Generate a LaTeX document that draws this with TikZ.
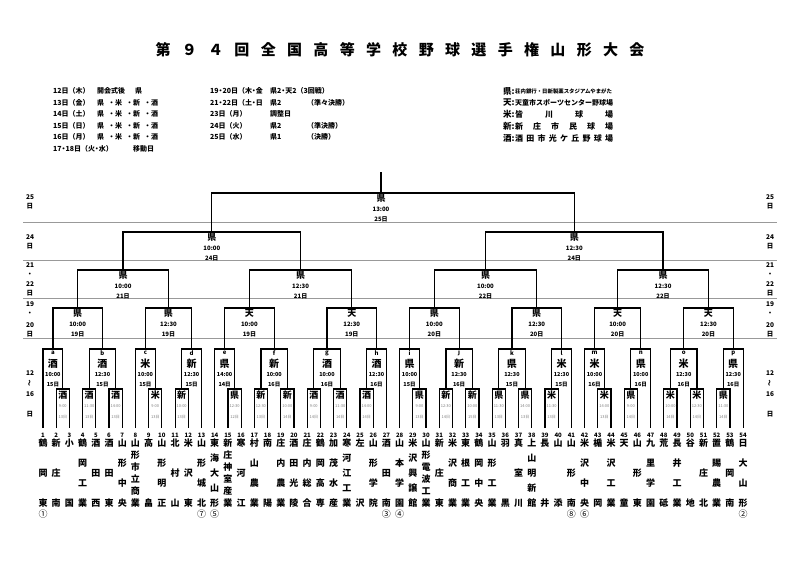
\documentclass[tikz,border=0pt]{standalone}
\usepackage{fontspec}
\setmainfont{Noto Sans CJK JP}
\usetikzlibrary{calc}
\newcommand\ndot{\kern-1.6pt・\kern-1.6pt}
\tikzset{
 br/.style={line width=1.2pt},
 sepl/.style={line width=0.8pt, draw=black!40},
 ttl/.style={font=\bfseries\fontsize{15}{15}\selectfont, inner sep=0},
 hd/.style={font=\bfseries\fontsize{7}{7}\selectfont, inner sep=0, anchor=west},
 lgk/.style={font=\bfseries\fontsize{8.5}{8.5}\selectfont, inner sep=0, anchor=west},
 lgt/.style={font=\bfseries\fontsize{7}{7}\selectfont, inner sep=0, anchor=west},
 dl/.style={font=\bfseries\fontsize{6.5}{6.5}\selectfont, inner sep=0},
 v1/.style={font=\bfseries\fontsize{9}{9}\selectfont, inner sep=0},
 t1/.style={font=\fontsize{4}{4}\selectfont, text=black!50, inner sep=0},
 lt/.style={font=\bfseries\fontsize{6}{6}\selectfont, inner sep=0},
 v2/.style={font=\bfseries\fontsize{10}{10}\selectfont, inner sep=0},
 t2/.style={font=\bfseries\fontsize{5.5}{5.5}\selectfont, inner sep=0},
 v3/.style={font=\bfseries\fontsize{9}{9}\selectfont, inner sep=0},
 t3/.style={font=\bfseries\fontsize{6}{6}\selectfont, inner sep=0},
 num/.style={font=\bfseries\fontsize{6}{6}\selectfont, inner sep=0},
 tn/.style={font=\bfseries\fontsize{9}{9}\selectfont, inner sep=0},
 circ/.style={font=\fontsize{9}{9}\selectfont, inner sep=0},
}
\newcommand\mkgame[4]{%
  \edef\mgname{#1}\edef\mgca{#2}\edef\mgcb{#3}%
  \path let \p1=(\mgca),\p2=(\mgcb) in ({\x1/2+\x2/2},{-#4pt}) coordinate (\mgname);
  \draw[br] (\mgca) |- (\mgname) -| (\mgcb);}
\newcommand\lone[4]{%
  \node[v1] (#1-v) at ([yshift=-6.5pt]#1) {#2};
  \node[t1] (#1-t) at ([yshift=-17.5pt]#1) {#3};
  \node[t1] (#1-d) at ([yshift=-28pt]#1) {#4};}
\newcommand\ltwo[5]{%
  \node[lt] (#1-l) at ([yshift=-4pt]#1) {#2};
  \node[v2] (#1-v) at ([yshift=-14.5pt]#1) {#3};
  \node[t2] (#1-t) at ([yshift=-25.5pt]#1) {#4};
  \node[t2] (#1-d) at ([yshift=-36pt]#1) {#5};}
\newcommand\lthree[4]{%
  \node[v3] (#1-v) at ([yshift=-5.5pt]#1) {#2};
  \node[t3] (#1-t) at ([yshift=-16pt]#1) {#3};
  \node[t3] (#1-d) at ([yshift=-26pt]#1) {#4};}
\newcommand\mkteam[3]{%
  \foreach \c [count=\k] in {#3} {
    \node[tn] (n#1-\k) at ({43+(#1-1)*13.21},{443+(\k-1)*60/(#2-1)}) {\c};
  }}
\begin{document}
\begin{tikzpicture}[x=1pt,y=-1pt]
\useasboundingbox (0,0) rectangle (800,565);
\fill[white] (0,0) rectangle (800,565);
% title
\foreach \c [count=\k] in {第,９,４,回,全,国,高,等,学,校,野,球,選,手,権,山,形,大,会}
  \node[ttl] (title\k) at ({163+(\k-1)*26.33},50) {\c};
% header left
\node[hd] (h1a) at (53,91) {12日（木）};
\node[hd] (h1b) at (97,91) {開会式後\hspace{10pt}県};
\foreach \yy/\dd [count=\k] in {102.5/13日（金）,114/14日（土）,125.5/15日（日）,137/16日（月）}{
  \node[hd] (h\k a) at (53,\yy) {\dd};
  \node[hd] (h\k b) at (97,\yy) {県\hspace{4pt}・米\hspace{4pt}・新\hspace{4pt}・酒};
}
\node[hd] (h6a) at (53,148.5) {17\ndot 18日（火\ndot 水）};
\node[hd] (h6b) at (133,148.5) {移動日};
% header right
\node[hd] (r1a) at (210,91) {19\ndot 20日（木\ndot 金};
\node[hd] (r1b) at (270,91) {県2\ndot 天2（3回戦）};
\node[hd] (r2a) at (210,102.5) {21\ndot 22日（土\ndot 日};
\node[hd] (r2b) at (270,102.5) {県2};
\node[hd] (r2c) at (307,102.5) {（準々決勝）};
\node[hd] (r3a) at (210,114) {23日（月）};
\node[hd] (r3b) at (270,114) {調整日};
\node[hd] (r4a) at (210,125.5) {24日（火）};
\node[hd] (r4b) at (270,125.5) {県2};
\node[hd] (r4c) at (307,125.5) {（準決勝）};
\node[hd] (r5a) at (210,137) {25日（水）};
\node[hd] (r5b) at (270,137) {県1};
\node[hd] (r5c) at (307,137) {（決勝）};
% legend
\node[lgk] (k1) at (503,91) {県:};
\node[lgt,font=\bfseries\fontsize{5.4}{5.4}\selectfont] (k1t) at (515,91) {荘内銀行・日新製薬スタジアムやまがた};
\node[lgk] (k2) at (503,103) {天:};
\node[lgt] (k2t) at (515,103) {天童市スポーツセンター野球場};
\node[lgk] (k3) at (503,114.5) {米:};
\node[lgt,font=\bfseries\fontsize{8}{8}\selectfont] (k3t) at (515,114.5) {\makebox[98pt][s]{皆\hfill 川\hfill 球\hfill 場}};
\node[lgk] (k4) at (503,126) {新:};
\node[lgt,font=\bfseries\fontsize{8}{8}\selectfont] (k4t) at (515,126) {\makebox[98pt][s]{新\hfill 庄\hfill 市\hfill 民\hfill 球\hfill 場}};
\node[lgk] (k5) at (503,138) {酒:};
\node[lgt,font=\bfseries\fontsize{8}{8}\selectfont] (k5t) at (515,138) {\makebox[98pt][s]{酒\hfill 田\hfill 市\hfill 光\hfill ケ\hfill 丘\hfill 野\hfill 球\hfill 場}};
% separators
\foreach \yy [count=\k] in {222,260,298,338}{
  \coordinate (sa\k) at (23,\yy); \coordinate (sb\k) at (777,\yy);
  \draw[sepl] (sa\k) -- (sb\k);
}
% day labels
\foreach \xx/\ss in {30/L,770/R}{
  \node[dl] (d25\ss) at (\xx,197) {25};
  \node[dl] (d25b\ss) at (\xx,206) {日};
  \node[dl] (d24\ss) at (\xx,237) {24};
  \node[dl] (d24b\ss) at (\xx,246) {日};
  \node[dl] (d21\ss) at (\xx,265) {21};
  \node[dl] (d21b\ss) at (\xx,274.5) {・};
  \node[dl] (d21c\ss) at (\xx,284) {22};
  \node[dl] (d21d\ss) at (\xx,293) {日};
  \node[dl] (d19\ss) at (\xx,304) {19};
  \node[dl] (d19b\ss) at (\xx,314) {・};
  \node[dl] (d19c\ss) at (\xx,325) {20};
  \node[dl] (d19d\ss) at (\xx,334) {日};
  \node[dl] (d12\ss) at (\xx,373) {12};
  \node[dl,rotate=90] (d12b\ss) at (\xx,383.5) {～};
  \node[dl] (d12c\ss) at (\xx,394) {16};
  \node[dl] (d12d\ss) at (\xx,414) {日};
}
% leaves
\foreach \i in {1,...,54}{
  \coordinate (L\i) at ({43+(\i-1)*13.21},428);
  \node[num] (num\i) at ({43+(\i-1)*13.21},435) {\i};
}
% round 1
\foreach \gnm/\gca/\gcb in {r2/L2/L3,r4/L4/L5,r6/L6/L7,r9/L9/L10,r11/L11/L12,r15/L15/L16,r17/L17/L18,r19/L19/L20,r21/L21/L22,r23/L23/L24,r25/L25/L26,r29/L29/L30,r31/L31/L32,r33/L33/L34,r35/L35/L36,r37/L37/L38,r39/L39/L40,r43/L43/L44,r45/L45/L46,r48/L48/L49,r50/L50/L51,r52/L52/L53}
  {\mkgame{\gnm}{\gca}{\gcb}{389}}
% round 2
\foreach \gnm/\gca/\gcb in {ga/L1/r2,gb/r4/r6,gc/L8/r9,gd/r11/L13,ge/L14/r15,gf/r17/r19,gg/r21/r23,gh/r25/L27,gi/L28/r29,gj/r31/r33,gk/r35/r37,gl/r39/L41,gm/L42/r43,gn/r45/L47,go/r48/r50,gp/r52/L54}
  {\mkgame{\gnm}{\gca}{\gcb}{349}}
% round 3
\foreach \gnm/\gca/\gcb in {s1/ga/gb,s2/gc/gd,s3/ge/gf,s4/gg/gh,s5/gi/gj,s6/gk/gl,s7/gm/gn,s8/go/gp}
  {\mkgame{\gnm}{\gca}{\gcb}{308}}
% quarter finals
\foreach \gnm/\gca/\gcb in {q1/s1/s2,q2/s3/s4,q3/s5/s6,q4/s7/s8}
  {\mkgame{\gnm}{\gca}{\gcb}{270}}
% semi finals
\mkgame{f1}{q1}{q2}{232}
\mkgame{f2}{q3}{q4}{232}
% final
\coordinate (fin) at (381,193);
\coordinate (fintop) at (381,172);
\draw[br] (f1) |- (fin) -| (f2);
\draw[br] (fin) -- (fintop);
% labels round 1
\foreach \gnm/\vv/\tt/\dd in {r2/酒/9:00/13日,r4/酒/11:30/13日,r6/酒/14:00/13日,r9/米/9:00/13日,r11/新/10:00/13日,r15/県/12:30/12日,r17/新/12:30/13日,r19/新/10:00/14日,r21/酒/9:00/14日,r23/酒/11:30/14日,r25/酒/14:00/14日,r29/県/9:00/13日,r31/新/12:30/14日,r33/新/10:00/15日,r35/県/11:30/13日,r37/県/14:00/13日,r39/米/11:30/13日,r43/米/14:00/13日,r45/県/9:00/14日,r48/米/10:00/14日,r50/米/12:30/14日,r52/県/11:30/14日}
  {\lone{\gnm}{\vv}{\tt}{\dd}}
% labels round 2
\foreach \gnm/\ll/\vv/\tt/\dd in {ga/a/酒/10:00/15日,gb/b/酒/12:30/15日,gc/c/米/10:00/15日,gd/d/新/12:30/15日,ge/e/県/14:00/14日,gf/f/新/10:00/16日,gg/g/酒/10:00/16日,gh/h/酒/12:30/16日,gi/i/県/10:00/15日,gj/j/新/12:30/16日,gk/k/県/12:30/15日,gl/l/米/12:30/15日,gm/m/米/10:00/16日,gn/n/県/10:00/16日,go/o/米/12:30/16日,gp/p/県/12:30/16日}
  {\ltwo{\gnm}{\ll}{\vv}{\tt}{\dd}}
% labels later rounds
\foreach \gnm/\vv/\tt/\dd in {s1/県/10:00/19日,s2/県/12:30/19日,s3/天/10:00/19日,s4/天/12:30/19日,s5/県/10:00/20日,s6/県/12:30/20日,s7/天/10:00/20日,s8/天/12:30/20日,q1/県/10:00/21日,q2/県/12:30/21日,q3/県/10:00/22日,q4/県/12:30/22日,f1/県/10:00/24日,f2/県/12:30/24日,fin/県/13:00/25日}
  {\lthree{\gnm}{\vv}{\tt}{\dd}}
% team names
\mkteam{1}{3}{鶴,岡,東}
\mkteam{2}{3}{新,庄,南}
\mkteam{3}{2}{小,国}
\mkteam{4}{4}{鶴,岡,工,業}
\mkteam{5}{3}{酒,田,西}
\mkteam{6}{3}{酒,田,東}
\mkteam{7}{4}{山,形,中,央}
\mkteam{8}{6}{山,形,市,立,商,業}
\mkteam{9}{2}{高,畠}
\mkteam{10}{4}{山,形,明,正}
\mkteam{11}{3}{北,村,山}
\mkteam{12}{3}{米,沢,東}
\mkteam{13}{4}{山,形,城,北}
\mkteam{14}{5}{東,海,大,山,形}
\mkteam{15}{6}{新,庄,神,室,産,業}
\mkteam{16}{3}{寒,河,江}
\mkteam{17}{4}{村,山,農,業}
\mkteam{18}{2}{南,陽}
\mkteam{19}{4}{庄,内,農,業}
\mkteam{20}{4}{酒,田,光,陵}
\mkteam{21}{4}{庄,内,総,合}
\mkteam{22}{4}{鶴,岡,高,専}
\mkteam{23}{4}{加,茂,水,産}
\mkteam{24}{5}{寒,河,江,工,業}
\mkteam{25}{2}{左,沢}
\mkteam{26}{4}{山,形,学,院}
\mkteam{27}{3}{酒,田,南}
\mkteam{28}{4}{山,本,学,園}
\mkteam{29}{5}{米,沢,興,譲,館}
\mkteam{30}{6}{山,形,電,波,工,業}
\mkteam{31}{3}{新,庄,東}
\mkteam{32}{4}{米,沢,商,業}
\mkteam{33}{4}{東,根,工,業}
\mkteam{34}{4}{鶴,岡,中,央}
\mkteam{35}{4}{山,形,工,業}
\mkteam{36}{2}{羽,黒}
\mkteam{37}{3}{真,室,川}
\mkteam{38}{5}{上,山,明,新,館}
\mkteam{39}{2}{長,井}
\mkteam{40}{2}{山,添}
\mkteam{41}{3}{山,形,南}
\mkteam{42}{4}{米,沢,中,央}
\mkteam{43}{2}{楯,岡}
\mkteam{44}{4}{米,沢,工,業}
\mkteam{45}{2}{天,童}
\mkteam{46}{3}{山,形,東}
\mkteam{47}{4}{九,里,学,園}
\mkteam{48}{2}{荒,砥}
\mkteam{49}{4}{長,井,工,業}
\mkteam{50}{2}{谷,地}
\mkteam{51}{3}{新,庄,北}
\mkteam{52}{4}{置,賜,農,業}
\mkteam{53}{3}{鶴,岡,南}
\mkteam{54}{4}{日,大,山,形}
% seeds
\foreach \i/\cc in {1/①,13/⑦,14/⑤,27/③,28/④,41/⑧,42/⑥,54/②}
  \node[circ] (c\i) at ({43+(\i-1)*13.21},514) {\cc};
\end{tikzpicture}
\end{document}
